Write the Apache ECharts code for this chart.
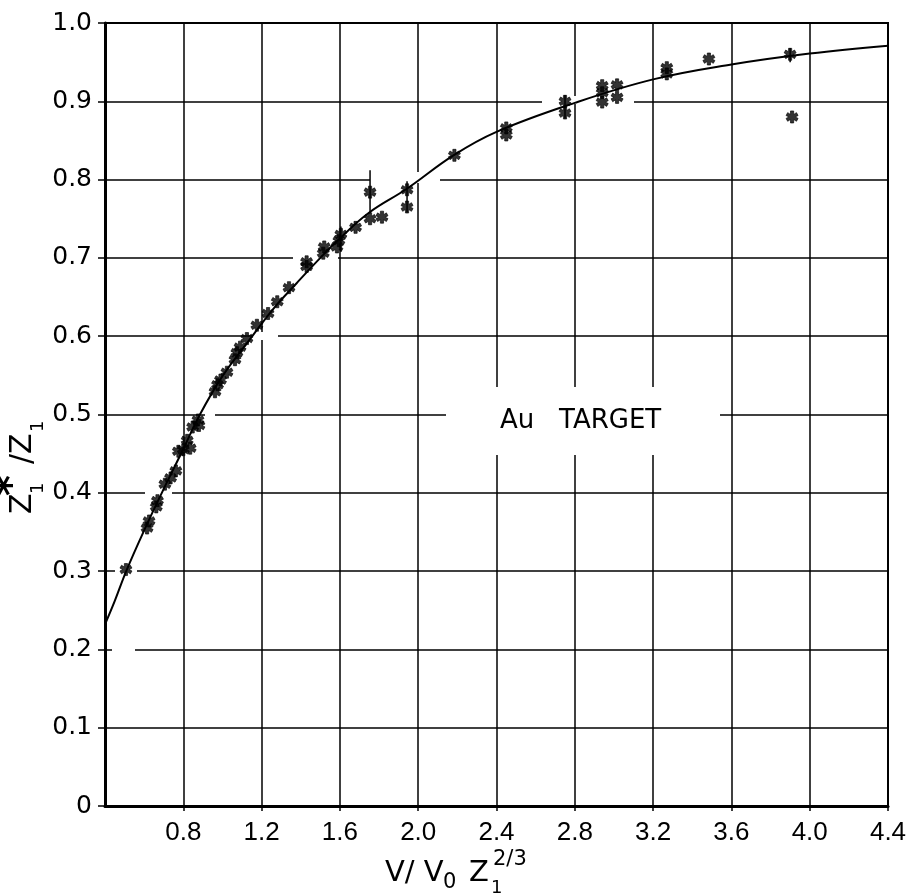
<!DOCTYPE html>
<html>
<head>
<meta charset="utf-8">
<script src="https://cdn.jsdelivr.net/npm/echarts@6/dist/echarts.min.js"></script>
<style>
  html, body { margin: 0; padding: 0; background: #fff; }
  #chart { width: 911px; height: 895px; }
</style>
</head>
<body>
<div id="chart"></div>
<script>
// fitted curve
var curveX = [0.40, 0.45, 0.51, 0.60, 0.70, 0.80, 0.885, 1.00, 1.14, 1.26, 1.38, 1.50, 1.60, 1.75, 1.94, 2.18, 2.40, 2.80, 3.20, 3.60, 4.00, 4.40]
var curveY = [0.232, 0.262, 0.301, 0.352, 0.405, 0.456, 0.500, 0.549, 0.596, 0.635, 0.668, 0.700, 0.725, 0.758, 0.788, 0.831, 0.861, 0.898, 0.928, 0.947, 0.961, 0.971]

// measured points (asterisks)
var ptsX = [0.507, 0.615, 0.625, 0.662, 0.668, 0.706, 0.735, 0.762, 0.775, 0.80, 0.82, 0.835, 0.848, 0.875, 0.88,
  0.962, 0.975, 0.99, 1.023, 1.064, 1.074, 1.09, 1.125, 1.176, 1.233, 1.28, 1.34, 1.43, 1.43, 1.515, 1.52,
  1.585, 1.595, 1.605, 1.68, 1.754, 1.754, 1.815, 1.943, 1.943, 2.185, 2.45, 2.45, 2.75, 2.75,
  2.94, 2.94, 2.94, 3.016, 3.016, 3.27, 3.27, 3.485, 3.90, 3.91]
var ptsY = [0.302, 0.355, 0.364, 0.382, 0.390, 0.411, 0.419, 0.428, 0.453, 0.455, 0.467, 0.457, 0.484, 0.493, 0.486,
  0.529, 0.538, 0.544, 0.554, 0.570, 0.579, 0.586, 0.597, 0.614, 0.629, 0.644, 0.662, 0.689, 0.695, 0.706, 0.714,
  0.714, 0.722, 0.730, 0.739, 0.784, 0.750, 0.752, 0.787, 0.765, 0.831, 0.866, 0.857, 0.900, 0.885,
  0.920, 0.911, 0.899, 0.921, 0.905, 0.943, 0.935, 0.954, 0.960, 0.880]

// error bars
var errX = [1.754, 1.943, 3.90, 2.75, 1.605]
var errLow = [0.757, 0.758, 0.950, 0.878, 0.708]
var errHigh = [0.812, 0.798, 0.968, 0.908, 0.740]

var xTicks = ['0.8', '1.2', '1.6', '2.0', '2.4', '2.8', '3.2', '3.6', '4.0', '4.4']
var yTicks = ['0', '0.1', '0.2', '0.3', '0.4', '0.5', '0.6', '0.7', '0.8', '0.9', '1.0']

// fat asterisk
var star = 'path://M3.6 0h2.8v2.9l2.5-1.5 1.4 2.4L7.8 5l2.5 1.2-1.4 2.4-2.5-1.5V10H3.6V7.1L1.1 8.6-.3 6.2 2.2 5-.3 3.8l1.4-2.4 2.5 1.5z'

var curveData = curveX.map(function (x, i) { return [x, curveY[i]] })
var ptsData = ptsX.map(function (x, i) { return [x, ptsY[i]] })
var errData = errX.map(function (x, i) { return [x, errLow[i], errHigh[i]] })

var FONT = 'DejaVu Sans'

// white patches where the drafted grid lines are broken
function gap(x, y, w, h) {
  return { type: 'rect', z: 1, shape: { x: x, y: y, width: w, height: h }, style: { fill: '#fff' } }
}

var myChart = echarts.init(document.getElementById('chart'))
var option = {
  backgroundColor: '#fff',
  animation: false,
  grid: { left: 105, right: 23, top: 23, bottom: 89, show: true, borderColor: '#000', borderWidth: 2 },
  xAxis: {
    type: 'value', min: 0.4, max: 4.4, interval: 0.4,
    axisLine: { lineStyle: { color: '#000', width: 3 } },
    axisTick: { show: true, length: 5, lineStyle: { color: '#000', width: 1.5 } },
    splitLine: { show: true, lineStyle: { color: '#000', width: 1.5 } },
    axisLabel: {
      showMinLabel: false, margin: 14, color: '#000', fontSize: 26,
      fontFamily: 'Liberation Sans Narrow, Liberation Sans',
      formatter: function (v) {
        var s = v.toFixed(1)
        return xTicks.indexOf(s) >= 0 ? s : ''
      }
    }
  },
  yAxis: {
    type: 'value', min: 0, max: 1, interval: 0.1,
    axisLine: { lineStyle: { color: '#000', width: 3 } },
    axisTick: { show: true, length: 7, lineStyle: { color: '#000', width: 1.5 } },
    splitLine: { show: true, lineStyle: { color: '#000', width: 1.5 } },
    axisLabel: {
      margin: 13, color: '#000', fontSize: 25, fontFamily: FONT,
      formatter: function (v) {
        return yTicks[Math.round(v * 10)]
      }
    }
  },
  graphic: [
    gap(542, 96, 92, 8),
    gap(370, 174, 70, 8),
    gap(293, 253, 45, 8),
    gap(253, 332, 25, 8),
    gap(205, 410, 10, 8),
    gap(145, 489, 27, 8),
    gap(115, 567, 22, 8),
    gap(112, 645, 23, 8),
    gap(414, 172, 8, 11),
    gap(446, 387, 274, 68),
    {
      type: 'text', z: 1, x: 500, y: 421,
      style: { text: 'Au   TARGET', fill: '#000', font: '26px ' + FONT, textVerticalAlign: 'middle' }
    },
    // x axis title: V/ V0 Z1^(2/3)
    {
      type: 'group', x: 385, y: 888,
      children: [
        { type: 'text', x: 0, y: 0, style: { text: 'V/ V', fill: '#000', font: '29px ' + FONT, textVerticalAlign: 'bottom' } },
        { type: 'text', x: 58, y: 5, style: { text: '0', fill: '#000', font: '21px ' + FONT, textVerticalAlign: 'bottom' } },
        { type: 'text', x: 84, y: 0, style: { text: 'Z', fill: '#000', font: '29px ' + FONT, textVerticalAlign: 'bottom' } },
        { type: 'text', x: 106, y: 9, style: { text: '1', fill: '#000', font: '18px ' + FONT, textVerticalAlign: 'bottom' } },
        { type: 'text', x: 108, y: -18, style: { text: '2/3', fill: '#000', font: '21px ' + FONT, textVerticalAlign: 'bottom' } }
      ]
    },
    // y axis title: Z1*/Z1, rotated
    {
      type: 'group', x: 38, y: 458, rotation: Math.PI / 2,
      children: [
        { type: 'text', x: -56, y: 0, style: { text: 'Z', fill: '#000', font: '30px ' + FONT, textVerticalAlign: 'bottom' } },
        { type: 'text', x: -36, y: 9, style: { text: '1', fill: '#000', font: '18px ' + FONT, textVerticalAlign: 'bottom' } },
        { type: 'text', x: -38, y: -4, style: { text: '*', fill: '#000', font: 'bold 40px ' + FONT, textVerticalAlign: 'bottom' } },
        { type: 'text', x: -6, y: 0, style: { text: '/Z', fill: '#000', font: '30px ' + FONT, textVerticalAlign: 'bottom' } },
        { type: 'text', x: 26, y: 9, style: { text: '1', fill: '#000', font: '18px ' + FONT, textVerticalAlign: 'bottom' } }
      ]
    }
  ],
  series: [
    {
      type: 'line', data: curveData, smooth: 0.4, showSymbol: false, z: 3,
      lineStyle: { color: '#000', width: 2 }
    },
    {
      type: 'custom', data: errData, z: 4,
      renderItem: function (params, api) {
        var p1 = api.coord([api.value(0), api.value(1)])
        var p2 = api.coord([api.value(0), api.value(2)])
        return {
          type: 'line',
          shape: { x1: p1[0], y1: p1[1], x2: p2[0], y2: p2[1] },
          style: { stroke: '#000', lineWidth: 1.5 }
        }
      }
    },
    {
      type: 'scatter', data: ptsData, symbol: star, symbolSize: [12, 12], z: 5,
      itemStyle: { color: '#000', borderColor: '#000', borderWidth: 0.8 }
    }
  ]
}
myChart.setOption(option)
</script>
</body>
</html>
